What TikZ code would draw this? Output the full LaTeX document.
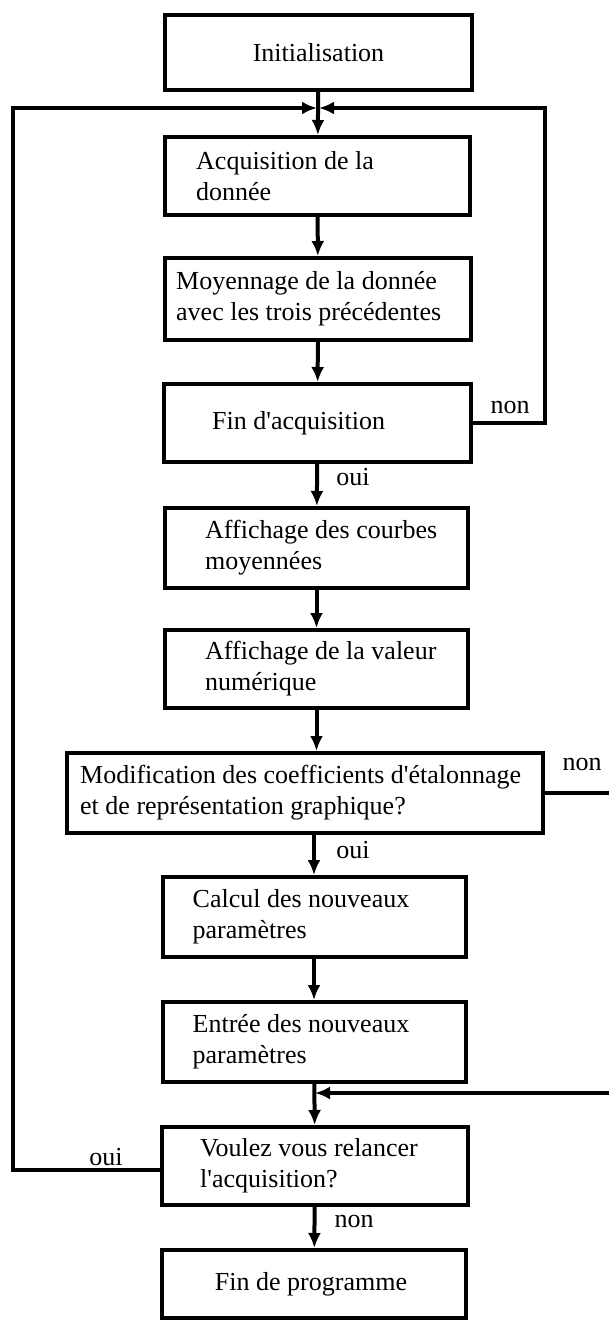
\documentclass[tikz,border=0pt]{standalone}
\usepackage{fontspec}
\setmainfont{Liberation Serif}
\usetikzlibrary{arrows.meta}
\begin{document}
\begin{tikzpicture}[x=1pt,y=-1pt,
  box/.style={draw, line width=4pt, inner sep=0pt},
  txt/.style={font=\fontsize{26}{31}\selectfont, align=left, inner sep=0pt, anchor=west},
  lbl/.style={font=\fontsize{26}{31}\selectfont, inner sep=0pt},
  conn/.style={line width=4pt},
  arr/.style={line width=4pt, -{Latex[length=15pt,width=13pt]}},
]
\useasboundingbox (0,0) rectangle (609,1323);
\fill[white] (0,0) rectangle (609,1323);

% boxes
\node[box, minimum width=307pt, minimum height=75pt] (init) at (318.5,52.5) {};
\node[box, minimum width=305pt, minimum height=78pt] (acq) at (317.5,176) {};
\node[box, minimum width=306pt, minimum height=82pt] (moy) at (318,299) {};
\node[box, minimum width=307pt, minimum height=78pt] (fin) at (317.5,423) {};
\node[box, minimum width=303pt, minimum height=80pt] (aff1) at (316.5,548) {};
\node[box, minimum width=303pt, minimum height=78pt] (aff2) at (316.5,669) {};
\node[box, minimum width=476pt, minimum height=80pt] (mod) at (305,793) {};
\node[box, minimum width=303pt, minimum height=80pt] (calc) at (314,917) {};
\node[box, minimum width=303pt, minimum height=80pt] (entree) at (314,1042) {};
\node[box, minimum width=306pt, minimum height=78pt] (voulez) at (315,1166) {};
\node[box, minimum width=304pt, minimum height=68pt] (finprog) at (314,1284) {};

% texts
\node[txt, anchor=center] (initt) at (init.center) {Initialisation};
\node[txt] (acqt) at ([xshift=33pt]acq.west) {Acquisition de la\\donnée};
\node[txt] (moyt) at ([xshift=13pt]moy.west) {Moyennage de la donnée\\avec les trois précédentes};
\node[txt] (fint) at ([xshift=50pt]fin.west) {Fin d\textquotesingle acquisition};
\node[txt] (aff1t) at ([xshift=42pt]aff1.west) {Affichage des courbes\\moyennées};
\node[txt] (aff2t) at ([xshift=42pt]aff2.west) {Affichage de la valeur\\numérique};
\node[txt] (modt) at ([xshift=15pt]mod.west) {Modification des coefficients d\textquotesingle étalonnage\\et de représentation graphique?};
\node[txt] (calct) at ([xshift=32pt]calc.west) {Calcul des nouveaux\\paramètres};
\node[txt] (entreet) at ([xshift=32pt]entree.west) {Entrée des nouveaux\\paramètres};
\node[txt] (voulezt) at ([xshift=40pt]voulez.west) {Voulez vous relancer\\l\textquotesingle acquisition?};
\node[txt, anchor=center] (finprogt) at ([xshift=-3pt]finprog.center) {Fin de programme};

% merge points and loop corners
\coordinate (m1) at (318,108);
\coordinate (m2) at (314,1093);
\coordinate (L1) at (13,1170);
\coordinate (L2) at (13,108);
\coordinate (Rt1) at (545,423);
\coordinate (Rt2) at (545,108);
\coordinate (E1) at (612,793);
\coordinate (E2) at (612,1093);

% main flow
\draw[arr] (init) -- (acq);
\draw[arr] (acq) -- (moy);
\draw[arr] (moy) -- (fin);
\draw[arr] (fin) -- (aff1);
\draw[arr] (aff1) -- (aff2);
\draw[arr] (aff2) -- (mod.north -| aff2);
\draw[arr] (mod.south -| calc) -- (calc);
\draw[arr] (calc) -- (entree);
\draw[arr] (entree) -- (voulez);
\draw[arr] (voulez) -- (finprog);

% loops
\draw[arr, shorten >=1pt] (fin.east) -- (Rt1) -- (Rt2) -- (m1);
\draw[arr, shorten >=1pt] (voulez.west |- L1) -- (L1) -- (L2) -- (m1);
\draw[conn] (mod.east) -- (E1);
\draw[arr, shorten >=1pt] (E2) -- (m2);

% labels
\node[lbl] (l1) at (510,407) {non};
\node[lbl] (l2) at (353,477) {oui};
\node[lbl] (l3) at (582,764) {non};
\node[lbl] (l4) at (353,850) {oui};
\node[lbl] (l5) at (106,1157) {oui};
\node[lbl] (l6) at (354,1221) {non};
\end{tikzpicture}
\end{document}
